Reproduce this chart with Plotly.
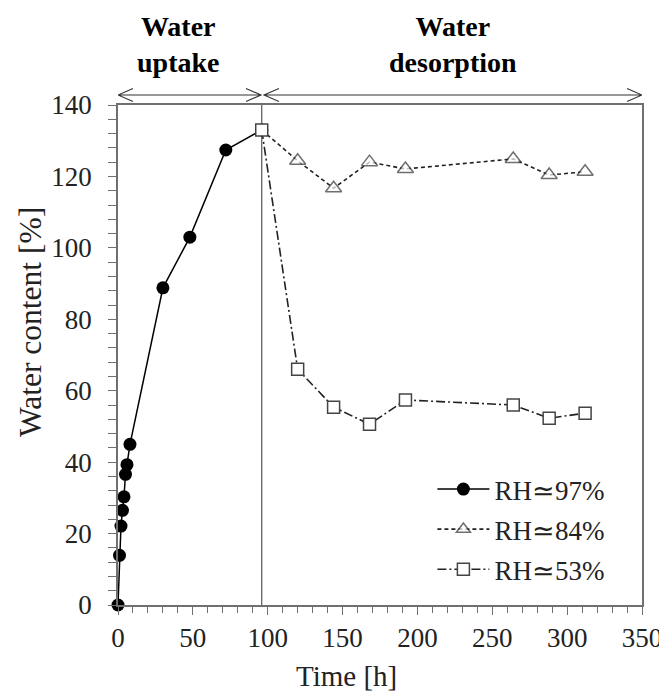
import plotly.graph_objects as go

# Data
t_97 = [0, 1, 2, 3, 4, 5, 6, 8, 30, 48, 72, 96]
w_97 = [0, 13.9, 22.1, 26.5, 30.3, 36.6, 39.3, 45.0, 88.8, 103.0, 127.4, 133.0]

t_84 = [96, 120, 144, 168, 192, 264, 288, 312]
w_84 = [133.0, 124.4, 116.7, 124.0, 122.1, 124.9, 120.4, 121.3]

t_53 = [96, 120, 144, 168, 192, 264, 288, 312]
w_53 = [133.0, 66.0, 55.4, 50.6, 57.4, 56.0, 52.3, 53.7]

names = ["RH\u224397%", "RH\u224384%", "RH\u224353%"]
x_ticks = [0, 50, 100, 150, 200, 250, 300, 350]
y_ticks = [0, 20, 40, 60, 80, 100, 120, 140]
t_switch = 96

FONT = "Liberation Serif, Times New Roman, serif"
AX = "#707070"

fig = go.Figure()
fig.add_trace(go.Scatter(
    x=t_97, y=w_97, name=names[0], mode="lines+markers", legendgroup="a",
    line=dict(color="black", width=1.5),
    marker=dict(symbol="circle", size=13, color="black"),
    cliponaxis=False))
fig.add_trace(go.Scatter(
    x=t_84, y=w_84, name=names[1], mode="lines+markers", legendgroup="b",
    line=dict(color="#222222", width=1.6, dash="4px,3px"),
    marker=dict(symbol="triangle-up", size=[0] + [14] * (len(t_84) - 1),
                color="white", line=dict(color="#333333", width=1.5)),
    cliponaxis=False))
fig.add_trace(go.Scatter(
    x=t_53, y=w_53, name=names[2], mode="lines+markers", legendgroup="c",
    line=dict(color="#222222", width=1.6, dash="9px,3px,2px,3px"),
    marker=dict(symbol="square", size=12, color="white",
                line=dict(color="#444444", width=1.5)),
    cliponaxis=False))

# vertical separator
fig.add_shape(type="line", xref="x", yref="paper", x0=t_switch, x1=t_switch,
              y0=0, y1=1, line=dict(color="#555555", width=1.2), layer="below")

# double-headed arrows above plot
ya = 1.02
dy = 0.013
dx = 10
def arrow(xa, xb):
    p = (f"M {xa},{ya} L {xb},{ya} "
         f"M {xa+dx},{ya+dy} L {xa},{ya} L {xa+dx},{ya-dy} "
         f"M {xb-dx},{ya+dy} L {xb},{ya} L {xb-dx},{ya-dy}")
    fig.add_shape(type="path", xref="x", yref="paper", path=p,
                  line=dict(color="#333333", width=1.1))
arrow(0, t_switch - 0.5)
arrow(t_switch + 1.5, 350)

fig.add_annotation(x=40, y=1.05, xref="x", yref="paper", yanchor="bottom",
                   text="<b>Water</b><br><b>uptake</b>", showarrow=False,
                   font=dict(family=FONT, size=28, color="black"))
fig.add_annotation(x=224, y=1.05, xref="x", yref="paper", yanchor="bottom",
                   text="<b>Water</b><br><b>desorption</b>", showarrow=False,
                   font=dict(family=FONT, size=28, color="black"))

# axis titles (placed as in the reference, slightly off-centre)
fig.add_annotation(x=0.437, y=-0.142, xref="paper", yref="paper",
                   xanchor="center", yanchor="middle", text="Time [h]",
                   showarrow=False, font=dict(family=FONT, size=29, color="#222222"))
fig.add_annotation(x=-0.168, y=0.566, xref="paper", yref="paper",
                   xanchor="center", yanchor="middle", text="Water content [%]",
                   textangle=-90, showarrow=False,
                   font=dict(family=FONT, size=31.5, color="#222222"))

# page body has an 8px default margin; compensate so the plot lands in place
fig.update_layout(
    width=667, height=684,
    margin=dict(l=110, r=33, t=97, b=87, autoexpand=False),
    plot_bgcolor="white", paper_bgcolor="white",
    font=dict(family=FONT, size=27, color="#222222"),
    showlegend=True,
    legend=dict(x=0.6, y=0.28, xanchor="left", yanchor="top",
                bgcolor="rgba(0,0,0,0)", font=dict(family=FONT, size=27),
                tracegroupgap=2, traceorder="grouped", itemwidth=52),
)
fig.update_xaxes(
    range=[0, 350], tickvals=x_ticks, ticks="outside", ticklen=8,
    tickcolor=AX, linecolor=AX, linewidth=1.5, mirror=True, showgrid=False,
    zeroline=False, minor=dict(dtick=10, ticks="outside", ticklen=6, tickcolor=AX),
    tickfont=dict(family=FONT, size=27), automargin=False)
fig.update_yaxes(
    range=[0, 140], tickvals=y_ticks, ticks="outside", ticklen=8,
    tickcolor=AX, linecolor=AX, linewidth=1.5, mirror=True, showgrid=False,
    zeroline=False, minor=dict(dtick=4, ticks="outside", ticklen=8, tickcolor=AX),
    ticklabelstandoff=11,
    tickfont=dict(family=FONT, size=27), automargin=False)

fig.write_html("out.html")
